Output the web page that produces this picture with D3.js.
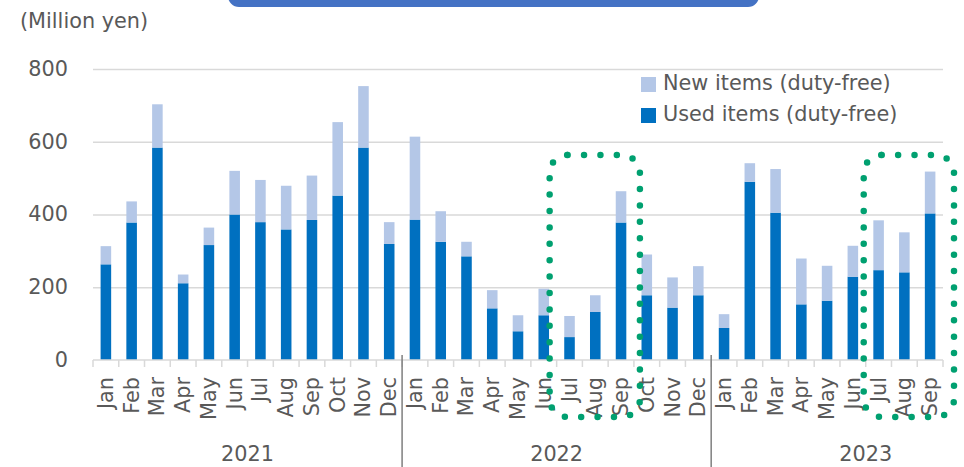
<!DOCTYPE html>
<html>
<head>
<meta charset="utf-8">
<script src="https://cdn.jsdelivr.net/npm/d3@7"></script>
<style>
  body { margin: 0; background: #fff; }
  text { font-family: "DejaVu Sans", Verdana, sans-serif; fill: #595959; }
</style>
</head>
<body>
<svg id="chart"></svg>
<script>
// data (million yen)
var years = ['2021', '2022', '2023'];
var months = ['Jan','Feb','Mar','Apr','May','Jun','Jul','Aug','Sep','Oct','Nov','Dec'];
var monthsPerYear = [12, 12, 9];
var usedItems = [263,378,584,211,316,400,379,359,385,452,584,319,
                 386,325,285,142,79,123,63,132,378,178,144,178,
                 88,490,405,153,163,229,247,241,403];
var newItems  = [50,58,119,24,48,120,116,120,122,202,169,60,
                 228,84,40,50,44,73,58,46,86,112,83,80,
                 38,51,120,126,96,85,137,110,115];
var yTicks = [0, 200, 400, 600, 800];
var seriesNames = ['New items (duty-free)', 'Used items (duty-free)'];
var highlights = [['2022-Jul', '2022-Sep'], ['2023-Jul', '2023-Sep']];

var W = 964, H = 467;
var FS = '20.8px';
var svg = d3.select('#chart').attr('width', W).attr('height', H);

// build rows
var rows = [];
var k = 0;
years.forEach(function(y, yi) {
    for (var m = 0; m < monthsPerYear[yi]; m++) {
	rows.push({key: y + '-' + months[m], year: y, month: months[m],
		   used: usedItems[k], fresh: newItems[k]});
	k++;
    }
});

var x = d3.scaleBand()
    .domain(rows.map(function(d) { return d.key; }))
    .range([93, 943])
    .paddingInner(0.59)
    .paddingOuter(0.295);
var step = x.step();
var slot = function(key) { return x(key) - (step - x.bandwidth()) / 2; };

var y = d3.scaleLinear().domain([0, 800]).range([360, 69]);

// top banner
svg.append('rect')
    .attr('x', 228).attr('y', -20)
    .attr('width', 531).attr('height', 27)
    .attr('rx', 11)
    .attr('fill', '#4472C4');

// gridlines + y labels
var yAxis = d3.axisLeft(y).tickValues(yTicks).tickSize(-(943 - 93)).tickPadding(25);
var ga = svg.append('g').attr('transform', 'translate(93,0)').call(yAxis);
ga.select('.domain').remove();
ga.selectAll('.tick line').attr('stroke', '#d9d9d9').attr('stroke-width', 1.4)
    .filter(function(d) { return d === 0; }).remove();
ga.selectAll('.tick text')
    .attr('x', -25)
    .attr('dy', '0.3em')
    .style('font-size', FS)
    .style('fill', '#595959');

svg.append('text')
    .attr('x', 20).attr('y', 28)
    .text('(Million yen)')
    .style('font-size', FS);

// stacked bars
var stack = d3.stack().keys(['used', 'fresh']);
var series = stack(rows);
var colors = {used: '#0070C0', fresh: '#B4C7E7'};

svg.append('g').selectAll('g')
    .data(series)
    .join('g')
    .attr('fill', function(s) { return colors[s.key]; })
    .selectAll('rect')
    .data(function(s) { return s; })
    .join('rect')
    .attr('x', function(d) { return x(d.data.key); })
    .attr('width', x.bandwidth())
    .attr('y', function(d) { return y(d[1]); })
    .attr('height', function(d) { return y(d[0]) - y(d[1]); });

// category axis
svg.append('line')
    .attr('x1', 93).attr('x2', 943)
    .attr('y1', y(0)).attr('y2', y(0))
    .attr('stroke', '#d9d9d9').attr('stroke-width', 1.5);

var bounds = rows.map(function(d) { return slot(d.key); }).concat([943]);
svg.append('g').selectAll('line')
    .data(bounds)
    .join('line')
    .attr('x1', function(d) { return d; }).attr('x2', function(d) { return d; })
    .attr('y1', y(0)).attr('y2', y(0) + 7)
    .attr('stroke', '#d9d9d9').attr('stroke-width', 1.5);

svg.append('g').selectAll('text')
    .data(rows)
    .join('text')
    .attr('transform', function(d) {
	return 'translate(' + (x(d.key) + x.bandwidth() / 2 + 7) + ',377) rotate(-90)';
    })
    .attr('text-anchor', 'end')
    .style('font-size', FS)
    .text(function(d) { return d.month; });

// year separators + labels
var firsts = years.map(function(yr) { return yr + '-Jan'; });
svg.append('g').selectAll('line')
    .data(firsts.slice(1))
    .join('line')
    .attr('x1', function(d) { return slot(d); }).attr('x2', function(d) { return slot(d); })
    .attr('y1', 355).attr('y2', H)
    .attr('stroke', '#7f7f7f').attr('stroke-width', 1.5);

svg.append('g').selectAll('text')
    .data(years)
    .join('text')
    .attr('x', function(yr) { return slot(yr + '-Jan') + step * 6; })
    .attr('y', 461)
    .attr('text-anchor', 'middle')
    .style('font-size', FS)
    .text(function(yr) { return yr; });

// legend
var legend = svg.append('g').attr('transform', 'translate(641,77)');
seriesNames.forEach(function(name, i) {
    legend.append('rect')
	.attr('x', 0).attr('y', i * 31)
	.attr('width', 15).attr('height', 15)
	.attr('fill', i === 0 ? colors.fresh : colors.used);
    legend.append('text')
	.attr('x', 22).attr('y', i * 31 + 13)
	.style('font-size', FS)
	.text(name);
});

// dotted highlight boxes
var pads = [[-7, 6], [-2, 11]];
highlights.forEach(function(h, i) {
    var x0 = slot(h[0]) + pads[i][0];
    var x1 = slot(h[1]) + step + pads[i][1];
    svg.append('rect')
	.attr('x', x0).attr('y', 155)
	.attr('width', x1 - x0).attr('height', 262)
	.attr('rx', 18)
	.attr('fill', 'none')
	.attr('stroke', '#00A070')
	.attr('stroke-width', 6.5)
	.attr('stroke-linecap', 'round')
	.attr('stroke-dasharray', '0 16.4');
});
</script>
</body>
</html>
